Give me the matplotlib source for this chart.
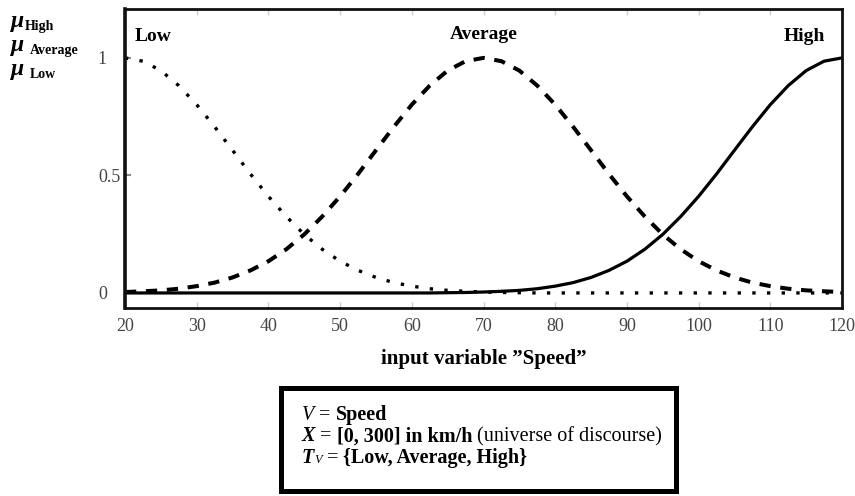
import matplotlib
matplotlib.use("Agg")
import matplotlib.pyplot as plt
from matplotlib.offsetbox import TextArea, HPacker, VPacker, AnchoredOffsetbox
from matplotlib.patches import Rectangle

# ---- data (membership values) ----
speed = [20, 22.5, 25, 27.5, 30, 32.5, 35, 37.5, 40, 42.5, 45, 47.5, 50, 52.5, 55,
         57.5, 60, 62.5, 65, 67.5, 70, 72.5, 75, 77.5, 80, 82.5, 85, 87.5, 90, 92.5,
         95, 97.5, 100, 102.5, 105, 107.5, 110, 112.5, 115, 117.5, 120]
mu_low = [1.0, 0.986, 0.946, 0.882, 0.801, 0.707, 0.607, 0.506, 0.411, 0.325, 0.249,
          0.186, 0.135, 0.096, 0.066, 0.044, 0.029, 0.018, 0.011, 0.007, 0.004, 0.002,
          0.001, 0, 0, 0, 0, 0, 0, 0, 0, 0, 0, 0, 0, 0, 0, 0, 0, 0, 0]
mu_avg = [0.004, 0.007, 0.011, 0.018, 0.029, 0.044, 0.066, 0.096, 0.135, 0.186, 0.249,
          0.325, 0.411, 0.506, 0.607, 0.707, 0.801, 0.882, 0.946, 0.986, 1.0, 0.986,
          0.946, 0.882, 0.801, 0.707, 0.607, 0.506, 0.411, 0.325, 0.249, 0.186, 0.135,
          0.096, 0.066, 0.044, 0.029, 0.018, 0.011, 0.007, 0.004]
mu_high = [0, 0, 0, 0, 0, 0, 0, 0, 0, 0, 0, 0, 0, 0, 0, 0, 0, 0, 0.001, 0.002,
           0.004, 0.007, 0.011, 0.018, 0.029, 0.044, 0.066, 0.096, 0.135, 0.186, 0.249,
           0.325, 0.411, 0.506, 0.607, 0.707, 0.801, 0.882, 0.946, 0.986, 1.0]
x_ticks = [20, 30, 40, 50, 60, 70, 80, 90, 100, 110, 120]
y_ticks = [0, 0.5, 1]
y_tick_labels = ["0", "0.5", "1"]
curve_names = ["Low", "Average", "High"]
mu_subscripts = ["High", "Average", "Low"]

SERIF = ["Liberation Serif", "DejaVu Serif"]
plt.rcParams['font.family'] = SERIF

fig = plt.figure(figsize=(8.55, 4.96), dpi=100)
W, H = 855, 496
AX_L, AX_R = 125, 842
ax = fig.add_axes([AX_L / W, 1 - 308 / H, (AX_R - AX_L) / W, (308 - 9) / H])

ax.plot(speed, mu_low, color="black", lw=2.4, linestyle=(0, (1, 3.4)))
ax.plot(speed, mu_avg, color="black", lw=2.9, linestyle=(0, (2.8, 2.4)))
ax.plot(speed, mu_high, color="black", lw=2.3, linestyle="-")

ax.set_xlim(20, 120)
ax.set_ylim(-0.064, 1.208)
ax.set_xticks(x_ticks)
ax.set_yticks(y_ticks)
ax.set_yticklabels(y_tick_labels)
ax.tick_params(axis="x", direction="in", length=4, width=1, color="#cccccc",
               labelsize=13, labelcolor="#444444", pad=7, top=True)
ax.tick_params(axis="y", direction="in", length=4, width=1.5, color="#888888",
               labelsize=13, labelcolor="#444444", pad=13)
yt = ax.yaxis.get_major_ticks()
yt[1].label1.set_x(14 / (AX_R - AX_L))
for side, lw in [("left", 2.6), ("bottom", 2.0), ("top", 2.0), ("right", 2.0)]:
    ax.spines[side].set_linewidth(lw)
    ax.spines[side].set_color("#111111")

# curve labels
ax.text(21.3, 1.09, curve_names[0], fontsize=14, fontweight="bold", ha="left", va="center")
ax.text(70, 1.10, curve_names[1], fontsize=14, fontweight="bold", ha="center", va="center")
ax.text(117.6, 1.09, curve_names[2], fontsize=14, fontweight="bold", ha="right", va="center")

ax.set_xlabel("input variable \u201dSpeed\u201d", fontsize=15, fontweight="bold", labelpad=10)

# mu labels on the left
for yy, sub, sx in zip([27, 51, 75], mu_subscripts, [25, 30, 30]):
    fig.text(11 / W, 1 - yy / H, "\u03bc", fontsize=17, fontweight="bold",
             fontstyle="italic", ha="left", va="baseline")
    fig.text(sx / W, 1 - (yy + 3) / H, sub, fontsize=10, fontweight="bold",
             ha="left", va="baseline")

# info box
fig.patches.append(Rectangle((280.5 / W, 1 - 490.5 / H), (675.5 - 280.5) / W, (490.5 - 387.5) / H,
                             transform=fig.transFigure, fill=False, lw=3.6,
                             edgecolor="black", figure=fig))
FS = 14.5
def ta(s, **kw):
    props = dict(fontsize=FS, family=SERIF)
    props.update(kw)
    return TextArea(s, textprops=props)

line1 = HPacker(children=[ta("V", fontstyle="italic"), ta(" = "), ta("Speed", fontweight="bold")],
                align="baseline", pad=0, sep=0)
line2 = HPacker(children=[ta("X", fontstyle="italic", fontweight="bold"), ta(" = "),
                          ta("[0, 300] in km/h", fontweight="bold"),
                          ta(" (universe of discourse)")],
                align="baseline", pad=0, sep=0)
line3 = HPacker(children=[ta("T", fontstyle="italic", fontweight="bold"),
                          ta("V", fontstyle="italic", fontsize=9),
                          ta(" = "), ta("{Low, Average, High}", fontweight="bold")],
                align="baseline", pad=0, sep=0)
box = VPacker(children=[line1, line2, line3], align="left", pad=0, sep=1)
anch = AnchoredOffsetbox(loc="upper left", child=box, frameon=False, pad=0, borderpad=0,
                         bbox_to_anchor=(302 / W, 1 - 405 / H), bbox_transform=fig.transFigure)
fig.add_artist(anch)

fig.savefig("out.png", dpi=100)
